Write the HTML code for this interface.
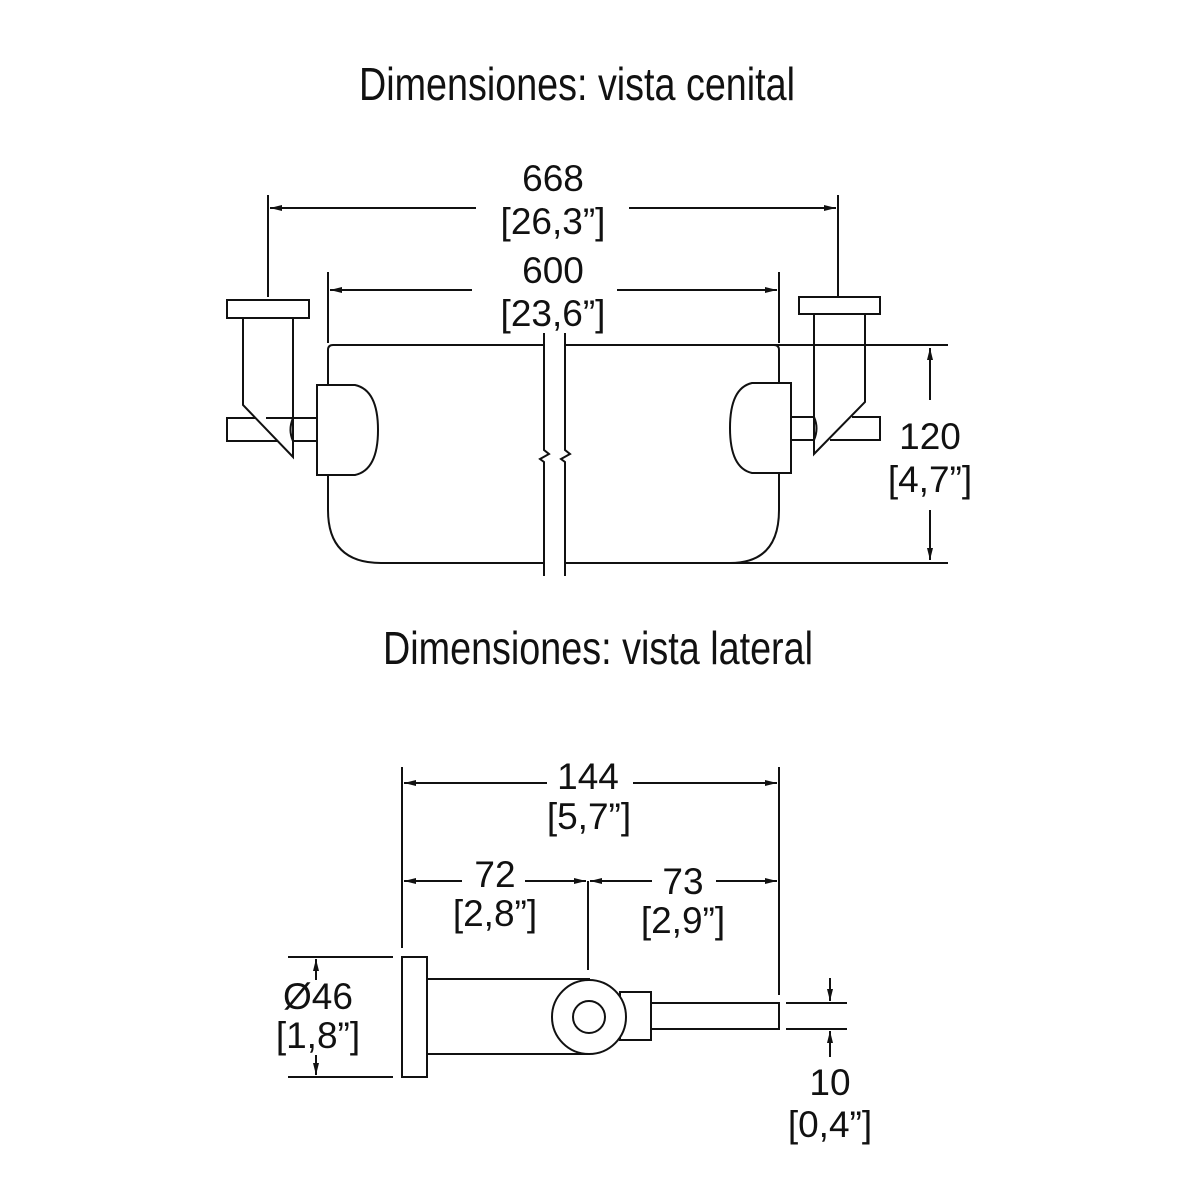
<!DOCTYPE html>
<html><head><meta charset="utf-8"><style>html,body{margin:0;padding:0;background:#fff}svg{display:block}</style></head>
<body>
<svg width="1200" height="1200" viewBox="0 0 1200 1200" xmlns="http://www.w3.org/2000/svg">
<defs>
<marker id="a" markerWidth="12" markerHeight="8" refX="12" refY="4" orient="auto-start-reverse" markerUnits="userSpaceOnUse"><path d="M0,1 L12,4 L0,7 Z" fill="#111"/></marker>
</defs>
<g font-family="Liberation Sans, sans-serif" fill="#111" text-anchor="middle">
<text x="577" y="100" font-size="46" textLength="436" lengthAdjust="spacingAndGlyphs">Dimensiones: vista cenital</text>
<text x="598" y="664" font-size="46" textLength="430" lengthAdjust="spacingAndGlyphs">Dimensiones: vista lateral</text>
<g font-size="37">
<text x="553" y="191">668</text><text x="553" y="234">[26,3”]</text>
<text x="553" y="283">600</text><text x="553" y="326">[23,6”]</text>
<text x="930" y="449">120</text><text x="930" y="492">[4,7”]</text>
<text x="588" y="789">144</text><text x="589" y="829">[5,7”]</text>
<text x="495" y="887">72</text><text x="495" y="926">[2,8”]</text>
<text x="683" y="894">73</text><text x="683" y="933">[2,9”]</text>
<text x="318" y="1009">Ø46</text><text x="318" y="1048">[1,8”]</text>
<text x="830" y="1095">10</text><text x="830" y="1137">[0,4”]</text>
</g>
</g>
<g stroke="#111" stroke-width="2" fill="none">
<line x1="268" y1="195" x2="268" y2="297"/><line x1="838" y1="195" x2="838" y2="297"/>
<line x1="270" y1="208" x2="476" y2="208" marker-start="url(#a)"/>
<line x1="629" y1="208" x2="836" y2="208" marker-end="url(#a)"/>
<line x1="328" y1="272" x2="328" y2="343"/><line x1="779" y1="272" x2="779" y2="343"/>
<line x1="330" y1="290" x2="472" y2="290" marker-start="url(#a)"/>
<line x1="617" y1="290" x2="777" y2="290" marker-end="url(#a)"/>
<path d="M328,385 L328,350 Q328,345 333,345 L544,345"/>
<path d="M565,345 L948,345"/>
<path d="M779,383 L779,350 Q779,345 774,345"/>
<path d="M328,475 L328,510 Q328,563 381,563 L544,563"/>
<path d="M565,563 L948,563"/>
<path d="M779,473 L779,510 Q779,563 730,563"/>
<path d="M544,333 L544,450 L549,454 L540,459 L544,462 L544,576"/>
<path d="M565,333 L565,450 L570,454 L561,459 L565,462 L565,576"/>
<rect x="227" y="300" width="82" height="18"/>
<path d="M243,318 L243,405 L293,457 L293,318"/>
<path d="M255,418 L227,418 L227,441 L277,441"/>
<line x1="266" y1="418" x2="317" y2="418"/><line x1="293" y1="441" x2="317" y2="441"/>
<path d="M293,418 Q288,430 293,441"/>
<path d="M317,385 L355,385 Q378,390 378,430 Q378,470 355,475 L317,475 Z"/>
<rect x="799" y="297" width="81" height="17"/>
<path d="M814,314 L814,454 L865,402 L865,314"/>
<path d="M852,417 L880,417 L880,440 L830,440"/>
<line x1="791" y1="417" x2="814" y2="417"/><line x1="791" y1="440" x2="814" y2="440"/>
<path d="M814,417 Q819,428 814,440"/>
<path d="M791,383 L752,383 Q730,388 730,428 Q730,468 752,473 L791,473 Z"/>
<line x1="930" y1="348" x2="930" y2="400" marker-start="url(#a)"/>
<line x1="930" y1="510" x2="930" y2="560" marker-end="url(#a)"/>
<line x1="402" y1="767" x2="402" y2="948"/>
<line x1="779" y1="767" x2="779" y2="995"/>
<line x1="588" y1="881" x2="588" y2="970"/>
<line x1="404" y1="783" x2="547" y2="783" marker-start="url(#a)"/>
<line x1="633" y1="783" x2="777" y2="783" marker-end="url(#a)"/>
<line x1="404" y1="881" x2="462" y2="881" marker-start="url(#a)"/>
<line x1="525" y1="881" x2="586" y2="881" marker-end="url(#a)"/>
<line x1="590" y1="881" x2="652" y2="881" marker-start="url(#a)"/>
<line x1="716" y1="881" x2="777" y2="881" marker-end="url(#a)"/>
<line x1="288" y1="957" x2="393" y2="957"/><line x1="288" y1="1077" x2="393" y2="1077"/>
<line x1="316" y1="959" x2="316" y2="980" marker-start="url(#a)"/>
<line x1="316" y1="1055" x2="316" y2="1075" marker-end="url(#a)"/>
<rect x="402" y="957" width="25" height="120"/>
<line x1="427" y1="979" x2="590" y2="979"/><line x1="427" y1="1054" x2="590" y2="1054"/>
<rect x="620" y="992" width="31" height="48" fill="#fff"/>
<circle cx="589" cy="1017" r="37" fill="#fff"/>
<circle cx="589" cy="1017" r="16"/>
<path d="M651,1003 L779,1003 L779,1029 L651,1029"/>
<line x1="786" y1="1003" x2="847" y2="1003"/><line x1="786" y1="1029" x2="847" y2="1029"/>
<line x1="830" y1="978" x2="830" y2="1001" marker-end="url(#a)"/>
<line x1="830" y1="1057" x2="830" y2="1031" marker-end="url(#a)"/>
</g>
</svg>
</body></html>
